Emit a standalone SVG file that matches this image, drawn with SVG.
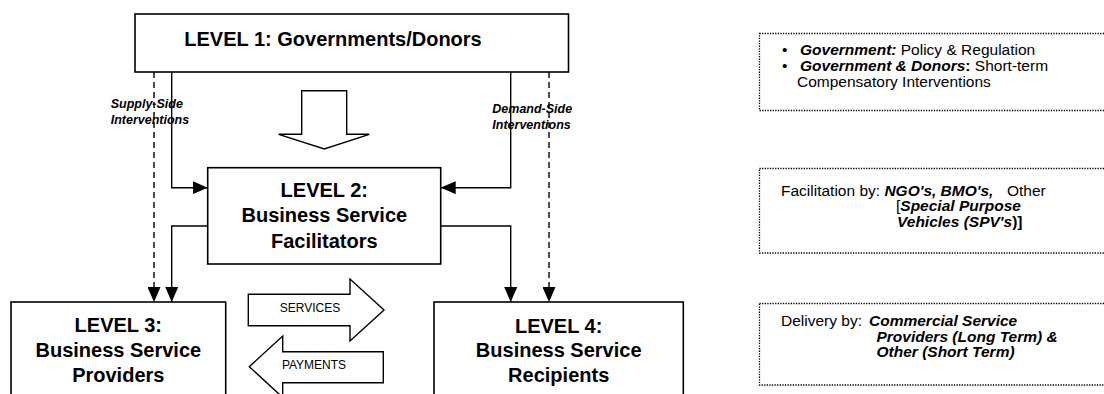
<svg xmlns="http://www.w3.org/2000/svg" width="1104" height="394" viewBox="0 0 1104 394">
<style>
text{font-family:"Liberation Sans",Arial,sans-serif;fill:#000}
.lvl{font-size:20px;font-weight:bold;text-anchor:middle}
.box{fill:#fff;stroke:#000;stroke-width:1.6}
.fat{fill:#fff;stroke:#000;stroke-width:1.4}
.ln{fill:none;stroke:#000;stroke-width:1.4}
.dsh{fill:none;stroke:#000;stroke-width:1.4;stroke-dasharray:6 4}
.dot{fill:#fff;stroke:#000;stroke-width:1.3;stroke-dasharray:1.3 1.3}
.lab{font-size:12.5px;font-weight:bold;font-style:italic}
.sm{font-size:12px;text-anchor:middle}
.nt{font-size:15.5px}
.bi{font-weight:bold;font-style:italic}
.b{font-weight:bold}
</style>
<defs>
<marker id="ah" markerUnits="userSpaceOnUse" markerWidth="15" markerHeight="13" viewBox="0 0 15 13" refX="15" refY="6.5" orient="auto">
<path d="M0,0 L15,6.5 L0,13 z" fill="#000"/>
</marker>
</defs>
<rect width="1104" height="394" fill="#fff"/>

<g id="level1">
<rect class="box" x="135" y="14" width="433.5" height="58"/>
<text class="lvl" x="333" y="45.5">LEVEL 1: Governments/Donors</text>
</g>

<g id="level2">
<rect class="box" x="207.7" y="167.7" width="233" height="96.3"/>
<text class="lvl" x="324.3" y="197.3">LEVEL 2:</text>
<text class="lvl" x="324.3" y="222.3">Business Service</text>
<text class="lvl" x="324.3" y="247.7">Facilitators</text>
</g>

<g id="level3">
<rect class="box" x="11" y="302" width="214.7" height="100"/>
<text class="lvl" x="118.3" y="332">LEVEL 3:</text>
<text class="lvl" x="118.3" y="356.8">Business Service</text>
<text class="lvl" x="118.3" y="382">Providers</text>
</g>

<g id="level4">
<rect class="box" x="434" y="302" width="249.3" height="100"/>
<text class="lvl" x="558.7" y="332.5">LEVEL 4:</text>
<text class="lvl" x="558.7" y="356.8">Business Service</text>
<text class="lvl" x="558.7" y="381.8">Recipients</text>
</g>

<g id="flow-arrow">
<polygon class="fat" points="301.7,90.7 346.7,90.7 346.7,134.3 369.3,134.3 324.3,149 278.7,134.3 301.7,134.3"/>
</g>

<g id="services">
<polygon class="fat" points="248.3,294.3 350,294.3 350,279 384,310 350,341 350,325.7 248.3,325.7"/>
<text class="sm" x="310" y="312">SERVICES</text>
</g>

<g id="payments">
<polygon class="fat" points="383.3,351.7 282.7,351.7 282.7,336 249.3,366.7 282.7,397.4 282.7,382.7 383.3,382.7"/>
<text class="sm" x="314" y="368.5">PAYMENTS</text>
</g>

<g id="connectors">
<path class="dsh" d="M154,72 V302" marker-end="url(#ah)"/>
<path class="ln" d="M171.7,72 V187.7 H207.7" marker-end="url(#ah)"/>
<path class="ln" d="M510.7,72 V187.7 H440.7" marker-end="url(#ah)"/>
<path class="dsh" d="M549,72 V302" marker-end="url(#ah)"/>
<path class="ln" d="M207.7,226 H171.7 V302" marker-end="url(#ah)"/>
<path class="ln" d="M440.7,226 H510.7 V302" marker-end="url(#ah)"/>
</g>

<g id="labels">
<text class="lab" x="110.7" y="107.5">Supply-Side</text>
<text class="lab" x="110.7" y="123.5">Interventions</text>
<text class="lab" x="492.3" y="112.7">Demand-Side</text>
<text class="lab" x="492.3" y="128.5">Interventions</text>
</g>

<g id="note1">
<rect class="dot" x="759.5" y="33.5" width="360" height="77"/>
<text class="nt" x="782" y="55">•</text>
<text class="nt" x="800" y="55"><tspan class="bi">Government:</tspan> Policy &amp; Regulation</text>
<text class="nt" x="782" y="71">•</text>
<text class="nt" x="800" y="71"><tspan class="bi">Government &amp; Donors</tspan><tspan class="b">:</tspan> Short-term</text>
<text class="nt" x="797" y="87">Compensatory Interventions</text>
</g>

<g id="note2">
<rect class="dot" x="759.5" y="168.5" width="360" height="84.5"/>
<text class="nt" x="781" y="195.5">Facilitation by: <tspan class="bi">NGO's, BMO's,</tspan><tspan x="1007">Other</tspan></text>
<text class="nt" x="896" y="211.2">[<tspan class="bi">Special Purpose</tspan></text>
<text class="nt" x="897" y="226.8"><tspan class="bi">Vehicles (SPV's</tspan><tspan class="b">)]</tspan></text>
</g>

<g id="note3">
<rect class="dot" x="759.5" y="303.5" width="360" height="81.5"/>
<text class="nt" x="781" y="325.5">Delivery by: <tspan class="bi" x="869">Commercial Service</tspan></text>
<text class="nt bi" x="876.5" y="341.5">Providers (Long Term) &amp;</text>
<text class="nt bi" x="876.5" y="357">Other (Short Term)</text>
</g>
</svg>
